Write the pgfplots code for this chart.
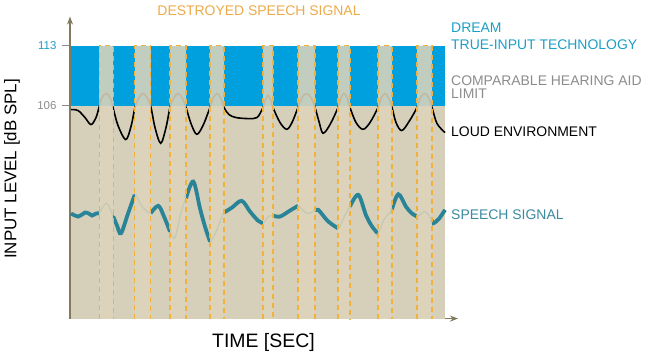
\documentclass[border=0pt]{standalone}
\usepackage{pgfplots}
\pgfplotsset{compat=1.18}
\usepackage{fontspec}
\setmainfont{Liberation Sans}
\usetikzlibrary{arrows.meta}
\definecolor{beigec}{RGB}{214,207,186}
\definecolor{bluec}{RGB}{0,160,222}
\definecolor{colc}{RGB}{222,212,186}
\definecolor{orangec}{RGB}{240,178,60}
\definecolor{axisc}{RGB}{128,122,95}
\definecolor{speechc}{RGB}{42,132,152}
\definecolor{titlec}{RGB}{236,170,74}
\definecolor{dreamc}{RGB}{28,158,198}
\definecolor{grayc}{RGB}{140,140,140}
\definecolor{speechtxt}{RGB}{58,138,160}
\newcommand{\col}[2]{%
  \addplot[fill=colc, fill opacity=0.87, draw=none] coordinates {(#1,81.15) (#1,113) (#2,113) (#2,81.15)} -- cycle;
  \addplot[draw=orangec, line width=1.2bp, dash pattern=on 5bp off 4bp] coordinates {(#1,81.15) (#1,113) (#2,113) (#2,81.15)};
}
\begin{document}
\begin{tikzpicture}[x=1bp,y=1bp]
\path[use as bounding box] (0,0) rectangle (650,355);
\begin{axis}[
  at={(70,42.5)}, anchor=south west,
  scale only axis, width=388bp, height=302bp,
  xmin=70, xmax=458, ymin=81.15, ymax=116.38,
  axis lines=left,
  axis line style={draw=axisc, line width=1.3bp, -{Stealth[length=8bp,width=6bp]}},
  xtick=\empty,
  ytick={106,113},
  yticklabels={{\color{grayc}106},{\color{dreamc}113}},
  yticklabel style={font=\fontsize{11.5}{12}\selectfont, xshift=-2bp},
  tick align=outside, major tick length=8bp,
  tick style={draw=grayc, line width=0.8bp},
  unbounded coords=jump,
  clip=false,
]
% background areas
\addplot[fill=beigec, draw=none] coordinates {(71,81.15) (71,106) (445,106) (445,81.15)} -- cycle;
\addplot[fill=bluec, draw=none] coordinates {(71,106) (71,113) (445,113) (445,106)} -- cycle;
% loud environment
\addplot[black, line width=1.6bp, smooth, tension=0.55] coordinates {
(71,105.53) (78,105.42) (85,104.60) (91,103.78) (96,104.60) (99,105.77)
(102,106.93) (106,107.40) (110,106.93) (113,105.77)
(118,103.67) (125.7,102.03) (131,103.55) (135,105.77)
(139,106.93) (143,107.40) (147,106.93) (151,105.77)
(155,103.43) (160.7,101.60) (166,103.43) (170,105.77)
(174,106.93) (178,107.40) (182,106.93) (186,105.77)
(191,103.90) (196.7,102.65) (203,103.67) (210,105.77)
(213.5,106.93) (217,107.40) (220.5,106.93) (224,105.77)
(229,104.95) (236,104.60) (248,104.48) (257,104.60) (263,105.77)
(265.5,106.70) (268,107.17) (270.5,106.70) (273,105.77)
(280,104.02) (286.7,103.23) (292,104.02) (298,105.77)
(302,106.93) (306.5,107.40) (311,106.93) (315,105.77)
(319,104.13) (323,102.77) (330,103.78) (338,105.77)
(341,106.93) (344,107.40) (347,106.93) (350,105.77)
(356,104.02) (363,103.23) (370,104.02) (378,105.77)
(381.5,106.93) (385,107.40) (388.5,106.93) (392,105.77)
(396,104.02) (401.7,103.08) (409,104.13) (417,105.77)
(420.5,106.93) (424.5,107.40) (428.5,106.93) (432,105.77)
(437,103.90) (445,102.85)
};
% speech signal: thin full path (faded later by the columns)
\addplot[speechc, line width=1.4bp, smooth, tension=0.55] coordinates {
(71,93.40) (75,93.17) (78,93.05) (82,93.28) (85,93.52) (89,93.40) (92,93.17) (96,93.40)
(99.3,93.44) (103,94.22) (106.7,94.60) (110,93.98) (113.3,93.05)
(117,92.00) (121,91.10) (128,93.40) (134.7,95.58)
(142,94.22) (150.7,93.44) (158.3,94.30) (164,93.05) (170,91.30)
(175,90.60) (181,93.50) (186,95.18)
(193.3,97.13) (200,94.00) (205,91.88) (210,90.13)
(217,91.53) (224,93.52) (232,94.10) (241.7,94.88) (250,93.63) (258,92.58) (263,92.27)
(268.3,93.05) (273,93.17) (280,93.05) (290,93.75) (298,94.30)
(306.7,93.44) (315,93.71) (318.3,93.83) (328,92.50) (338,91.68)
(344,93.00) (350,94.22) (358.3,95.58) (366,93.20) (372,91.90) (377.7,91.10)
(384,92.70) (391.7,93.83) (398.3,95.65) (406,94.20) (412,93.40) (417.3,93.05)
(425,93.63) (431.7,92.67) (433.3,92.27) (439,92.80) (445,93.83)
};
% speech signal: thick visible parts
\addplot[speechc, line width=3.8bp, smooth, tension=0.55] coordinates {
(71,93.40) (75,93.17) (78,93.05) (82,93.28) (85,93.52) (89,93.40) (92,93.17) (96,93.40)
(99.3,93.44) (103,nan)
(113.3,93.05) (117,92.00) (121,91.10) (128,93.40) (134.7,95.58)
(142,nan)
(150.7,93.44) (158.3,94.30) (164,93.05) (170,91.30)
(175,nan)
(186,95.18) (193.3,97.13) (200,94.00) (205,91.88) (210,90.13)
(217,nan)
(224,93.52) (232,94.10) (241.7,94.88) (250,93.63) (258,92.58) (263,92.27)
(268.3,nan)
(273,93.17) (280,93.05) (290,93.75) (298,94.30)
(306.7,nan)
(315,93.71) (318.3,93.83) (328,92.50) (338,91.68)
(344,nan)
(350,94.22) (358.3,95.58) (366,93.20) (372,91.90) (377.7,91.10)
(384,nan)
(391.7,93.83) (398.3,95.65) (406,94.20) (412,93.40) (417.3,93.05)
(425,nan)
(431.7,92.67) (433.3,92.27) (439,92.80) (445,93.83)
};
% destroyed columns
\col{99.3}{113.3}
\col{134.7}{150.7}
\col{170}{186}
\col{210}{224}
\col{263}{273}
\col{298}{315}
\col{338}{350}
\col{378}{392}
\col{417}{432}
\end{axis}
% texts
\node[anchor=base, inner sep=0, text=titlec, font=\fontsize{14}{14}\selectfont] at (259,339.5) {DESTROYED SPEECH SIGNAL};
\node[anchor=base west, inner sep=0, text=dreamc, font=\fontsize{14}{14}\selectfont] at (451,322.7) {DREAM};
\node[anchor=base west, inner sep=0, text=dreamc, font=\fontsize{14}{14}\selectfont] at (451,306) {TRUE-INPUT TECHNOLOGY};
\node[anchor=base west, inner sep=0, text=grayc, font=\fontsize{14}{14}\selectfont] at (451,270) {COMPARABLE HEARING AID};
\node[anchor=base west, inner sep=0, text=grayc, font=\fontsize{14}{14}\selectfont] at (451,256.5) {LIMIT};
\node[anchor=base west, inner sep=0, text=black, font=\fontsize{14}{14}\selectfont] at (451,219) {LOUD ENVIRONMENT};
\node[anchor=base west, inner sep=0, text=speechtxt, font=\fontsize{14}{14}\selectfont] at (451,136) {SPEECH SIGNAL};
\node[anchor=base west, inner sep=0, text=black, font=\fontsize{19.5}{20}\selectfont] at (212,8) {TIME [SEC]};
\node[rotate=90, inner sep=0, text=black, font=\fontsize{17}{18}\selectfont] at (12,186) {INPUT LEVEL [dB SPL]};
\end{tikzpicture}
\end{document}
